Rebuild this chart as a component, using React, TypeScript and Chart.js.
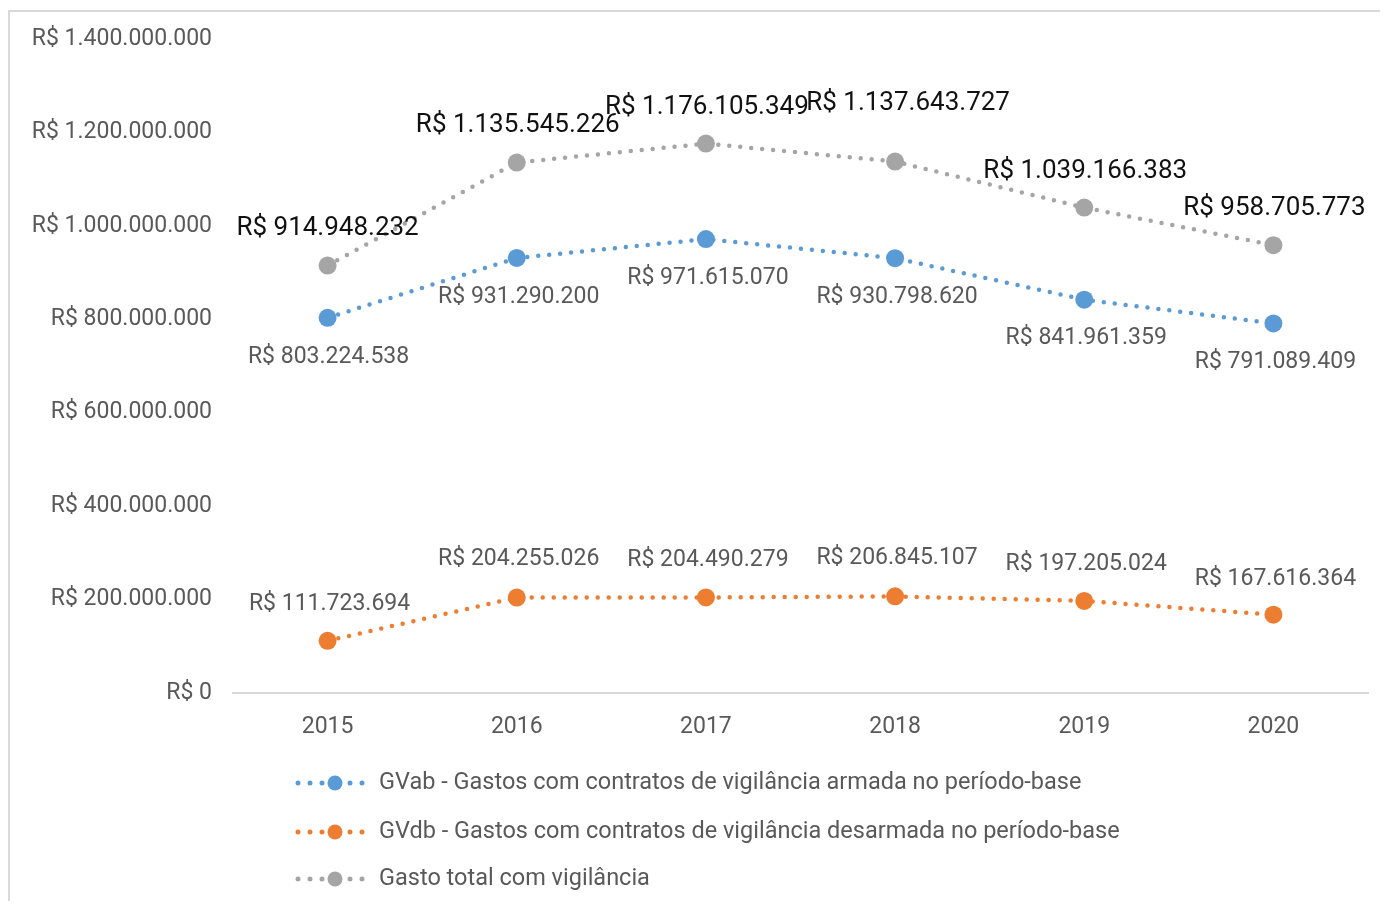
import React, { useEffect, useRef } from "react";
import { Chart, registerables } from "chart.js";

Chart.register(...registerables);

const years = ["2015", "2016", "2017", "2018", "2019", "2020"];
const gvab = [803224538, 931290200, 971615070, 930798620, 841961359, 791089409];
const gvdb = [111723694, 204255026, 204490279, 206845107, 197205024, 167616364];
const total = [914948232, 1135545226, 1176105349, 1137643727, 1039166383, 958705773];
const seriesNames = [
  "GVab - Gastos com contratos de vigilância armada no período-base",
  "GVdb - Gastos com contratos de vigilância desarmada no período-base",
  "Gasto total com vigilância",
];
const seriesColors = ["#5B9BD5", "#ED7D31", "#A5A5A5"];

const FONT = "Roboto";

function fmt(v: number): string {
  const s = Math.round(v).toString().replace(/\B(?=(\d{3})+(?!\d))/g, ".");
  return "R$ " + s;
}

const labelCfg = [
  { color: "#595959", size: 23, dx: [1, 2, 2, 2, 2, 2], dy: [39, 39, 39, 39, 39, 39] },
  { color: "#595959", size: 23, dx: [2, 2, 2, 2, 2, 2], dy: [-37, -38, -37, -38, -37, -35] },
  { color: "#111111", size: 26, dx: [0, 1, 1, 13, 1, 1], dy: [-37, -37, -36, -58, -36, -37] },
];

const framePlugin = {
  id: "frame",
  beforeDraw(chart: any) {
    const ctx = chart.ctx;
    ctx.save();
    ctx.strokeStyle = "#d9d9d9";
    ctx.lineWidth = 2;
    ctx.beginPath();
    ctx.moveTo(1, chart.height);
    ctx.lineTo(1, 3);
    ctx.lineTo(chart.width, 3);
    ctx.stroke();
    ctx.restore();
  },
};

const dataLabelPlugin = {
  id: "dataLabels",
  afterDatasetsDraw(chart: any) {
    const ctx = chart.ctx;
    ctx.save();
    ctx.textAlign = "center";
    ctx.textBaseline = "middle";
    chart.data.datasets.forEach((ds: any, i: number) => {
      const meta = chart.getDatasetMeta(i);
      const cfg = labelCfg[i];
      ctx.font = `${cfg.size}px ${FONT}`;
      ctx.fillStyle = cfg.color;
      meta.data.forEach((pt: any, j: number) => {
        ctx.fillText(fmt(ds.data[j]), pt.x + cfg.dx[j], pt.y + cfg.dy[j]);
      });
    });
    ctx.restore();
  },
};

const legendPlugin = {
  id: "customLegend",
  afterDraw(chart: any) {
    const ctx = chart.ctx;
    ctx.save();
    const ys = [775, 824, 871];
    chart.data.datasets.forEach((ds: any, i: number) => {
      const y = ys[i];
      ctx.fillStyle = ds.borderColor;
      [290, 302, 314, 342, 354].forEach((x) => {
        ctx.beginPath();
        ctx.arc(x, y, 2.5, 0, Math.PI * 2);
        ctx.fill();
      });
      ctx.beginPath();
      ctx.arc(327, y, 7.5, 0, Math.PI * 2);
      ctx.fill();
      ctx.font = `23.5px ${FONT}`;
      ctx.fillStyle = "#595959";
      ctx.textAlign = "left";
      ctx.textBaseline = "middle";
      ctx.fillText(ds.label, 371, y);
    });
    ctx.restore();
  },
};

export default function App() {
  const ref = useRef<HTMLCanvasElement>(null);
  useEffect(() => {
    if (!ref.current) return;
    const mk = (label: string, data: number[], color: string) => ({
      label,
      data,
      borderColor: color,
      backgroundColor: color,
      pointBackgroundColor: color,
      pointBorderWidth: 0,
      pointRadius: 9,
      borderWidth: 4.5,
      borderDash: [0, 11],
      borderCapStyle: "round" as const,
      tension: 0,
      fill: false,
    });
    const chart = new Chart(ref.current, {
      type: "line",
      data: {
        labels: years,
        datasets: [
          mk(seriesNames[0], gvab, seriesColors[0]),
          mk(seriesNames[1], gvdb, seriesColors[1]),
          mk(seriesNames[2], total, seriesColors[2]),
        ],
      },
      options: {
        responsive: false,
        animation: false,
        layout: { padding: { top: 31, right: 12, bottom: 158, left: 0 } },
        plugins: { legend: { display: false }, tooltip: { enabled: false } },
        scales: {
          x: {
            offset: true,
            grid: { display: false },
            border: { display: true, color: "#d9d9d9", width: 2 },
            ticks: { color: "#595959", font: { family: FONT, size: 23 }, padding: 12 },
            afterFit: (s: any) => {
              s.height = 50;
            },
          },
          y: {
            min: 0,
            max: 1400000000,
            grid: { display: false },
            border: { display: false },
            ticks: {
              stepSize: 200000000,
              color: "#595959",
              font: { family: FONT, size: 23 },
              padding: 13,
              callback: (v: any) => fmt(Number(v)),
            },
            afterFit: (s: any) => {
              s.width = 225;
            },
          },
        },
      },
      plugins: [framePlugin, dataLabelPlugin, legendPlugin],
    });
    return () => chart.destroy();
  }, []);
  return <canvas ref={ref} width={1372} height={893} style={{ display: "block" }} />;
}
